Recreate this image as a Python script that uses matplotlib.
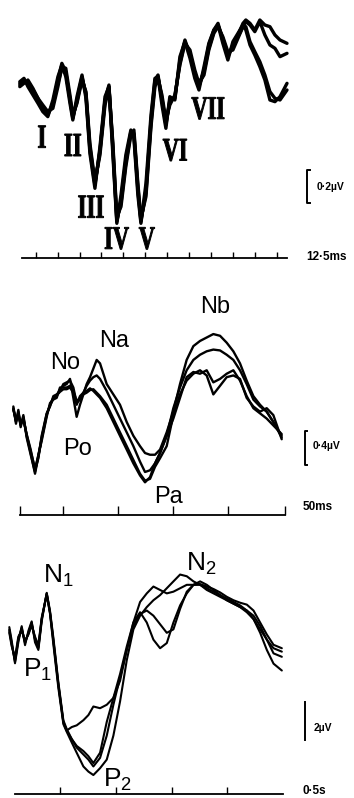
import matplotlib
matplotlib.use("Agg")
import matplotlib.pyplot as plt
from matplotlib import transforms
from matplotlib.font_manager import FontProperties
from matplotlib.patches import PathPatch
from matplotlib.textpath import TextPath

# --- brainstem response (ms, uV) ---
abr_t = [0.27, 0.46, 0.64, 0.87, 1.10, 1.32, 1.55, 1.78, 2.01, 2.19,
         2.37, 2.56, 2.69, 2.88, 3.11, 3.29, 3.47, 3.70, 3.93, 4.16,
         4.34, 4.52, 4.70, 4.89, 5.11, 5.34, 5.48, 5.66, 5.80, 6.03,
         6.26, 6.44, 6.58, 6.76, 6.94, 7.12, 7.35, 7.58, 7.81, 8.04,
         8.26, 8.45, 8.68, 8.90, 9.13, 9.32, 9.54, 9.77, 10.00, 10.23,
         10.46, 10.59, 10.78, 11.00, 11.23, 11.46, 11.69, 11.92, 12.15, 12.47]
abr_1 = [0.09, 0.12, 0.10, 0.05, 0.00, -0.05, -0.09, -0.02, 0.12, 0.22,
         0.17, 0.00, -0.11, 0.00, 0.14, 0.03, -0.30, -0.51, -0.30, 0.00,
         0.09, -0.30, -0.73, -0.60, -0.36, -0.19, -0.21, -0.54, -0.73, -0.54,
         -0.12, 0.12, 0.15, 0.00, -0.15, 0.00, 0.01, 0.24, 0.36, 0.27,
         0.15, 0.08, 0.18, 0.33, 0.42, 0.46, 0.36, 0.26, 0.33, 0.39,
         0.46, 0.48, 0.46, 0.42, 0.48, 0.45, 0.44, 0.39, 0.36, 0.34]
abr_2 = [0.08, 0.10, 0.12, 0.07, 0.01, -0.03, -0.07, -0.05, 0.08, 0.20,
         0.19, 0.03, -0.09, -0.02, 0.12, 0.05, -0.26, -0.49, -0.33, -0.03,
         0.07, -0.26, -0.70, -0.64, -0.40, -0.21, -0.18, -0.50, -0.71, -0.58,
         -0.16, 0.08, 0.13, 0.03, -0.12, -0.03, 0.03, 0.21, 0.34, 0.30,
         0.18, 0.10, 0.15, 0.30, 0.40, 0.44, 0.38, 0.29, 0.30, 0.37,
         0.44, 0.47, 0.45, 0.41, 0.47, 0.39, 0.33, 0.31, 0.26, 0.28]
abr_3 = [0.11, 0.13, 0.08, 0.03, -0.02, -0.07, -0.10, 0.00, 0.14, 0.21,
         0.14, -0.02, -0.12, 0.02, 0.15, 0.01, -0.32, -0.53, -0.28, 0.02,
         0.08, -0.33, -0.74, -0.57, -0.33, -0.18, -0.23, -0.57, -0.74, -0.50,
         -0.09, 0.13, 0.14, -0.03, -0.17, 0.02, 0.00, 0.26, 0.35, 0.25,
         0.13, 0.06, 0.20, 0.34, 0.42, 0.45, 0.34, 0.24, 0.35, 0.40,
         0.45, 0.42, 0.33, 0.27, 0.20, 0.12, 0.00, -0.01, 0.02, 0.10]
abr_4 = [0.10, 0.11, 0.11, 0.06, 0.01, -0.06, -0.08, -0.03, 0.10, 0.19,
         0.16, 0.01, -0.10, -0.01, 0.13, 0.04, -0.28, -0.50, -0.31, -0.01,
         0.08, -0.28, -0.72, -0.62, -0.38, -0.20, -0.20, -0.52, -0.72, -0.56,
         -0.14, 0.10, 0.14, 0.01, -0.14, -0.01, 0.02, 0.22, 0.35, 0.28,
         0.16, 0.09, 0.17, 0.31, 0.41, 0.45, 0.37, 0.27, 0.32, 0.38,
         0.44, 0.44, 0.35, 0.29, 0.23, 0.15, 0.05, 0.01, 0.00, 0.06]
abr_names = ["I", "II", "III", "IV", "V", "VI", "VII"]
abr_name_t = [1.28, 2.69, 3.52, 4.70, 6.07, 7.35, 8.86]
abr_name_uv = [-0.22, -0.27, -0.64, -0.83, -0.83, -0.30, -0.05]

# --- middle latency response (ms, uV) ---
mlr_t = [0.97, 1.45, 1.88, 2.30, 2.79, 3.39, 4.12, 4.91, 5.52, 6.12,
         7.03, 7.64, 8.24, 8.85, 9.45, 10.06, 10.67, 11.27, 11.88, 12.48,
         13.09, 13.70, 14.30, 14.91, 15.52, 16.12, 16.73, 17.94, 19.15, 20.36,
         21.58, 22.79, 24.00, 24.91, 25.82, 26.73, 27.64, 28.85, 30.06, 31.27,
         32.48, 33.70, 34.91, 36.12, 37.33, 38.55, 39.76, 40.97, 42.18, 43.39,
         44.61, 45.82, 47.03, 48.24, 49.76]
mlr_1 = [0.28, 0.12, 0.24, 0.08, 0.18, -0.04, -0.24, -0.48, -0.28, -0.08,
         0.20, 0.32, 0.40, 0.42, 0.50, 0.54,
         0.56, 0.62, 0.40, 0.18, 0.32, 0.44, 0.56, 0.64, 0.74, 0.84,
         0.80, 0.56, 0.44, 0.32, 0.12, -0.04, -0.16, -0.24, -0.26, -0.26,
         -0.20, 0.00, 0.24, 0.56, 0.84, 1.00, 1.06, 1.10, 1.14, 1.12,
         1.04, 0.94, 0.80, 0.60, 0.42, 0.32, 0.24, 0.12, -0.04]
mlr_2 = [0.26, 0.15, 0.22, 0.10, 0.15, -0.02, -0.20, -0.44, -0.30, -0.04,
         0.22, 0.30, 0.42, 0.44, 0.48, 0.56,
         0.58, 0.60, 0.52, 0.34, 0.38, 0.46, 0.54, 0.60, 0.64, 0.66,
         0.62, 0.48, 0.32, 0.16, 0.00, -0.16, -0.34, -0.46, -0.44, -0.36,
         -0.24, -0.04, 0.28, 0.52, 0.72, 0.84, 0.90, 0.94, 0.96, 0.95,
         0.90, 0.84, 0.72, 0.56, 0.38, 0.30, 0.24, 0.12, -0.06]
mlr_3 = [0.30, 0.10, 0.26, 0.06, 0.20, -0.06, -0.26, -0.46, -0.26, -0.10,
         0.18, 0.34, 0.38, 0.40, 0.52, 0.52,
         0.52, 0.54, 0.48, 0.36, 0.40, 0.44, 0.46, 0.49, 0.50, 0.46,
         0.42, 0.32, 0.16, 0.00, -0.16, -0.32, -0.48, -0.56, -0.54, -0.40,
         -0.30, -0.16, 0.20, 0.44, 0.60, 0.68, 0.72, 0.66, 0.44, 0.54,
         0.64, 0.66, 0.62, 0.40, 0.30, 0.24, 0.28, 0.20, -0.08]
mlr_4 = [0.27, 0.13, 0.20, 0.09, 0.16, -0.03, -0.22, -0.42, -0.27, -0.06,
         0.21, 0.31, 0.39, 0.43, 0.47, 0.50,
         0.50, 0.52, 0.46, 0.32, 0.42, 0.46, 0.48, 0.51, 0.48, 0.44,
         0.40, 0.28, 0.12, -0.04, -0.20, -0.36, -0.50, -0.58, -0.52, -0.36,
         -0.24, -0.04, 0.16, 0.40, 0.64, 0.70, 0.68, 0.72, 0.58, 0.62,
         0.68, 0.72, 0.60, 0.42, 0.28, 0.22, 0.16, 0.08, -0.02]
mlr_names = ["No", "Na", "Nb", "Po", "Pa"]
mlr_name_t = [10.36, 19.27, 37.64, 12.55, 29.09]
mlr_name_uv = [0.80, 1.06, 1.45, -0.19, -0.75]

# --- late response (ms, uV) ---
llr_t = [9.0, 13.2, 19.2, 25.2, 31.2, 37.2, 43.2, 49.1, 55.1, 61.1,
         67.1, 76.1, 82.0, 88.0, 97.0, 106.0, 112.0, 121.0, 129.9, 141.9,
         150.9, 159.8, 171.8, 183.8, 195.7, 207.7, 219.7, 231.6, 243.6, 255.6,
         267.5, 279.5, 291.5, 303.4, 315.4, 327.4, 339.4, 351.3, 363.3, 375.3,
         387.2, 399.2, 411.2, 423.1, 435.1, 447.1, 459.0, 471.0, 483.0, 497.9]
llr_1 = [3.78, 3.06, 2.07, 3.24, 3.87, 3.06, 3.60, 4.14, 3.24, 2.79,
         4.32, 5.67, 4.68, 3.24, 0.90, -1.08, -1.53,
         -1.35, -1.26, -0.99, -0.72, -0.27, -0.36, -0.18, 0.18, 1.08, 2.70,
         4.14, 5.22, 5.67, 6.03, 5.85, 5.67, 5.76, 5.94, 6.12, 6.12,
         6.16, 6.03, 5.90, 5.72, 5.49, 5.31, 5.18, 5.08, 4.77, 4.14,
         3.51, 2.97, 2.79]
llr_2 = [3.60, 2.90, 2.30, 3.40, 3.70, 3.20, 3.50, 4.00, 3.40, 2.95,
         4.40, 5.60, 4.60, 3.00, 0.70, -1.20, -1.60,
         -2.16, -2.70, -3.42, -3.69, -3.87, -3.51, -3.06, -1.80, 0.00, 2.16,
         3.78, 4.50, 4.95, 5.31, 5.58, 5.94, 6.30, 6.66, 6.57, 6.30,
         6.12, 5.85, 5.67, 5.49, 5.31, 5.13, 4.95, 4.77, 4.32, 3.78,
         3.24, 2.79, 2.61]
llr_3 = [3.90, 3.20, 2.00, 3.10, 3.95, 2.95, 3.70, 4.20, 3.10, 2.70,
         4.20, 5.70, 4.75, 3.35, 1.00, -1.00, -1.45,
         -1.98, -2.34, -2.61, -2.88, -3.24, -2.70, -1.08, 0.18, 1.44, 2.88,
         4.14, 4.68, 4.14, 3.24, 2.79, 3.06, 4.14, 5.04, 5.67, 6.12,
         6.30, 6.12, 5.85, 5.58, 5.31, 5.13, 4.95, 4.68, 4.32, 3.60,
         2.70, 1.98, 1.62]
llr_4 = [3.70, 3.00, 2.15, 3.30, 3.80, 3.10, 3.55, 4.05, 3.30, 2.85,
         4.30, 5.65, 4.65, 3.15, 0.85, -1.12, -1.55,
         -1.98, -2.43, -2.79, -3.06, -3.42, -2.97, -1.80, -0.18, 1.26, 2.70,
         3.96, 4.59, 4.77, 4.50, 4.05, 3.60, 3.78, 4.86, 5.76, 6.12,
         6.12, 5.94, 5.76, 5.58, 5.40, 5.22, 5.04, 4.77, 4.50, 3.96,
         3.24, 2.52, 2.34]
llr_names = [r"N$_\mathregular{1}$", r"N$_\mathregular{2}$", r"P$_\mathregular{1}$", r"P$_\mathregular{2}$"]
llr_name_t = [96.4, 353.1, 60.5, 202.3]
llr_name_uv = [6.58, 7.25, 1.64, -4.12]

W, H = 354, 798
fig = plt.figure(figsize=(W / 100, H / 100), dpi=100)


def make_axes(x0, x1, y0, y1, xlim, ylim, ticks, ticklen):
    ax = fig.add_axes([x0 / W, 1 - y1 / H, (x1 - x0) / W, (y1 - y0) / H])
    ax.set_xlim(*xlim)
    ax.set_ylim(*ylim)
    for side in ("top", "left", "right"):
        ax.spines[side].set_visible(False)
    ax.spines["bottom"].set_linewidth(1.3)
    ax.set_xticks(ticks)
    ax.set_yticks([])
    ax.tick_params(axis="x", direction="in", length=ticklen, width=1.0, labelbottom=False)
    ax.patch.set_alpha(0)
    return ax


def traces(ax, t, series, lw):
    for y in series:
        ax.plot(t, y, color="black", lw=lw, clip_on=False,
                solid_joinstyle="round", solid_capstyle="round")


def scale_bar(ax, xf, lo, size, text, tx, ty, hook=0.0):
    tr = transforms.blended_transform_factory(ax.transAxes, ax.transData)
    hi = lo + size
    ax.plot([xf + hook, xf, xf, xf + hook], [hi, hi, lo, lo], color="black",
            lw=1.4, transform=tr, clip_on=False)
    ax.text(tx, ty, text, transform=tr, ha="left", va="center", fontsize=7.5,
            fontweight="bold", family="Liberation Sans")


def time_label(ax, text, xf, yf):
    ax.text(xf, yf, text, transform=ax.transAxes, ha="left", va="center",
            fontsize=8.5, fontweight="bold", family="Liberation Sans")


def roman(ax, t, a, s, h=22, squeeze=0.68):
    # tall, narrow, heavy serif numerals
    path = TextPath((0, 0), s, size=1,
                    prop=FontProperties(family="Liberation Serif", weight="bold"))
    bb = path.get_extents()
    k = h / bb.height
    px, py = ax.transData.transform((t, a))
    tr = (transforms.Affine2D()
          .translate(-(bb.x0 + bb.x1) / 2, -(bb.y0 + bb.y1) / 2)
          .scale(k * squeeze, k)
          .translate(px, py))
    fig.add_artist(PathPatch(path, transform=tr, facecolor="black",
                             edgecolor="black", lw=0.7))


# panel 1
ax1 = make_axes(22, 287, 0, 258, (0.37, 12.47), (-0.948, 0.6), range(1, 13), 4.3)
traces(ax1, abr_t, [abr_1, abr_2, abr_3, abr_4], 2.4)
for s, t, a in zip(abr_names, abr_name_t, abr_name_uv):
    roman(ax1, t, a, s)
scale_bar(ax1, 1.075, -0.62, 0.2, "0·2µV", 1.112, -0.52, hook=0.01)
time_label(ax1, "12·5ms", 1.072, 0.005)

# panel 2
ax2 = make_axes(20, 285, 262, 515, (2.18, 50.36), (-0.959, 1.976),
                [2.18, 10, 20, 30, 40, 50.36], 6.5)
traces(ax2, mlr_t, [mlr_1, mlr_2, mlr_3, mlr_4], 1.7)
for s, t, a in zip(mlr_names, mlr_name_t, mlr_name_uv):
    ax2.text(t, a, s, ha="center", va="center", fontsize=17, family="Liberation Sans")
scale_bar(ax2, 1.075, -0.38, 0.4, "0·4µV", 1.105, -0.16, hook=0.008)
time_label(ax2, "50ms", 1.068, 0.032)

# panel 3
ax3 = make_axes(15, 283, 540, 794, (19.2, 500), (-4.866, 8.474), [100, 200, 300, 400], 5)
traces(ax3, llr_t, [llr_1, llr_2, llr_3, llr_4], 1.5)
for s, t, a in zip(llr_names, llr_name_t, llr_name_uv):
    ax3.text(t, a, s, ha="center", va="center", fontsize=19, family="Liberation Sans")
scale_bar(ax3, 1.082, -2.03, 2, "2µV", 1.115, -1.40)
time_label(ax3, "0·5s", 1.071, 0.01)

fig.savefig("out.png", dpi=100)
